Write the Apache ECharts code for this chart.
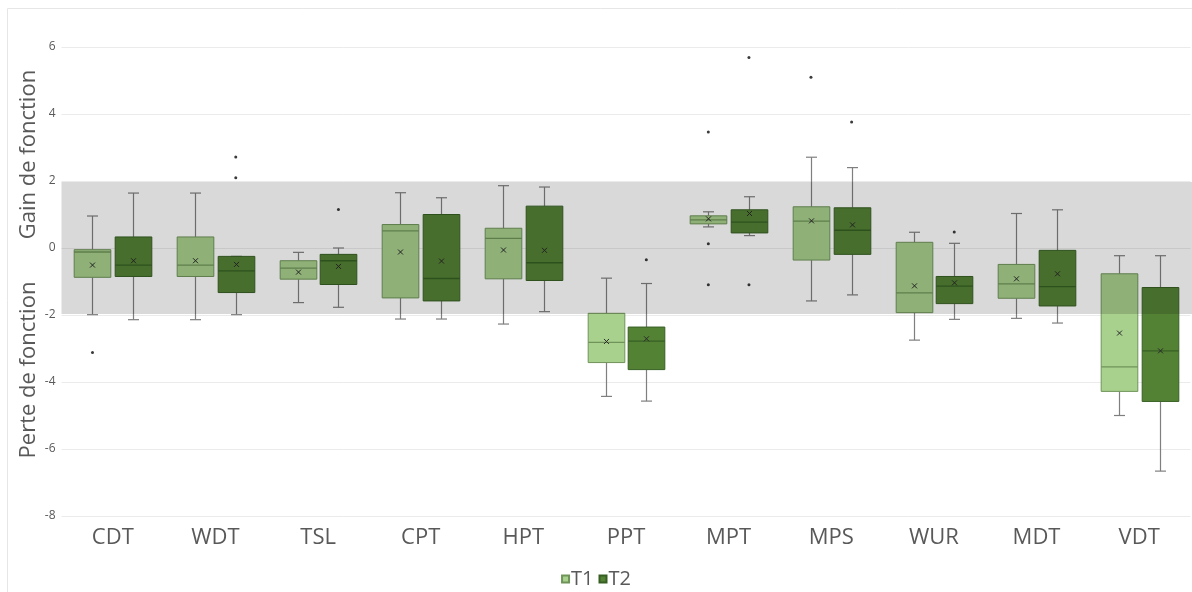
<!DOCTYPE html>
<html>
<head>
<meta charset="utf-8">
<script src="https://cdn.jsdelivr.net/npm/echarts@6/dist/echarts.min.js"></script>
<style>html,body{margin:0;padding:0;background:#fff;}#chart{width:1192px;height:592px;}</style>
</head>
<body>
<div id="chart"></div>
<script>
const categories = ['CDT','WDT','TSL','CPT','HPT','PPT','MPT','MPS','WUR','MDT','VDT'];
const yTicks = [-8, -6, -4, -2, 0, 2, 4, 6];
// [min, Q1, median, Q3, max, mean]
const t1Stats = [
  [-1.99, -0.875, -0.12, -0.05, 0.955, -0.51],
  [-2.14, -0.85, -0.51, 0.33, 1.64, -0.38],
  [-1.63, -0.93, -0.60, -0.38, -0.13, -0.72],
  [-2.12, -1.49, 0.51, 0.70, 1.65, -0.12],
  [-2.27, -0.92, 0.29, 0.59, 1.86, -0.06],
  [-4.43, -3.42, -2.82, -1.95, -0.90, -2.79],
  [0.63, 0.72, 0.84, 0.96, 1.08, 0.87],
  [-1.58, -0.36, 0.80, 1.23, 2.71, 0.81],
  [-2.75, -1.93, -1.34, 0.17, 0.47, -1.13],
  [-2.10, -1.50, -1.07, -0.49, 1.03, -0.92],
  [-5.00, -4.28, -3.55, -0.77, -0.23, -2.54]
];
const t2Stats = [
  [-2.14, -0.85, -0.51, 0.33, 1.64, -0.38],
  [-1.99, -1.33, -0.68, -0.25, -0.25, -0.49],
  [-1.77, -1.09, -0.38, -0.19, 0.00, -0.55],
  [-2.12, -1.58, -0.91, 1.00, 1.50, -0.39],
  [-1.90, -0.97, -0.44, 1.25, 1.82, -0.07],
  [-4.57, -3.63, -2.78, -2.36, -1.06, -2.71],
  [0.37, 0.45, 0.77, 1.14, 1.53, 1.03],
  [-1.40, -0.19, 0.53, 1.20, 2.40, 0.69],
  [-2.13, -1.66, -1.14, -0.85, 0.14, -1.04],
  [-2.24, -1.73, -1.15, -0.07, 1.14, -0.77],
  [-6.66, -4.58, -3.07, -1.18, -0.23, -3.07]
];
// [category index, value]
const t1Outliers = [[0, -3.12], [6, 3.46], [6, 0.13], [6, -1.10], [7, 5.10]];
const t2Outliers = [[1, 2.72], [1, 2.10], [2, 1.15], [5, -0.35], [6, 5.69], [6, -1.10], [7, 3.76], [8, 0.48]];
const neutralBand = [-1.97, 1.97];

const FONT = '"Open Sans", "Noto Sans", sans-serif';
const TEXT = '#595959';

function boxRender(side, stroke) {
  return function (params, api) {
    const idx = api.value(0);
    const band = api.size([1, 0])[0];
    const cx = Math.round(api.coord([idx, 0])[0] + side * band * 0.198) + 0.5;
    const w = band * 0.357;
    const y = v => api.coord([idx, v])[1];
    const yMin = y(api.value(1)), yQ1 = y(api.value(2)), yMed = y(api.value(3)),
          yQ3 = y(api.value(4)), yMax = y(api.value(5)), yMean = y(api.value(6));
    const cap = 5.5, m = 2.5;
    const ws = { stroke: '#7f7f7f', lineWidth: 1.2 };
    return {
      type: 'group',
      children: [
        { type: 'line', shape: { x1: cx, y1: yMax, x2: cx, y2: yQ3 }, style: ws },
        { type: 'line', shape: { x1: cx, y1: yQ1, x2: cx, y2: yMin }, style: ws },
        { type: 'line', shape: { x1: cx - cap, y1: yMax, x2: cx + cap, y2: yMax }, style: ws },
        { type: 'line', shape: { x1: cx - cap, y1: yMin, x2: cx + cap, y2: yMin }, style: ws },
        { type: 'rect', shape: { x: cx - w / 2, y: yQ3, width: w, height: yQ1 - yQ3 },
          style: { fill: api.visual('color'), stroke: stroke, lineWidth: 1 } },
        { type: 'line', shape: { x1: cx - w / 2, y1: yMed, x2: cx + w / 2, y2: yMed },
          style: { stroke: stroke, lineWidth: 1.3 } },
        { type: 'line', shape: { x1: cx - m, y1: yMean - m, x2: cx + m, y2: yMean + m },
          style: { stroke: '#2a2a2a', lineWidth: 1 } },
        { type: 'line', shape: { x1: cx - m, y1: yMean + m, x2: cx + m, y2: yMean - m },
          style: { stroke: '#2a2a2a', lineWidth: 1 } }
      ]
    };
  };
}
function outlierRender(side) {
  return function (params, api) {
    const idx = api.value(0);
    const band = api.size([1, 0])[0];
    const p = api.coord([idx, api.value(1)]);
    return { type: 'circle', shape: { cx: p[0] + side * band * 0.198, cy: p[1], r: 1.5 },
             style: { fill: '#3a3a3a' } };
  };
}
function bandRender(params, api) {
  const cs = params.coordSys;
  const yLo = api.coord([0, api.value(0)])[1];
  const yHi = api.coord([0, api.value(1)])[1];
  return { type: 'rect', silent: true,
           shape: { x: cs.x, y: yHi, width: cs.width + 2, height: yLo - yHi },
           style: { fill: 'rgba(0,0,0,0.15)' } };
}

const t1Data = t1Stats.map((s, i) => [i].concat(s));
const t2Data = t2Stats.map((s, i) => [i].concat(s));

const chart = echarts.init(document.getElementById('chart'), null, { renderer: 'canvas' });
chart.setOption({
  backgroundColor: '#ffffff',
  animation: false,
  grid: { left: 61.5, right: 1.5, top: 47, bottom: 76, containLabel: false, outerBoundsMode: 'none' },
  xAxis: {
    type: 'category',
    data: categories,
    axisLine: { show: false },
    axisTick: { show: false },
    axisLabel: { fontSize: 22, color: TEXT, fontFamily: FONT, margin: 11 },
    splitLine: { show: false }
  },
  yAxis: {
    type: 'value',
    min: yTicks[0], max: yTicks[yTicks.length - 1], interval: 2,
    axisLine: { show: false },
    axisTick: { show: false },
    axisLabel: { fontSize: 12, color: TEXT, fontFamily: FONT, margin: 6 },
    splitLine: { lineStyle: { color: '#ebebeb', width: 1 } }
  },
  legend: {
    data: ['T1', 'T2'],
    left: 'center',
    top: 564,
    icon: 'rect',
    itemWidth: 7, itemHeight: 7, itemGap: 5,
    textStyle: { fontSize: 20, color: TEXT, fontFamily: FONT, padding: [0, 0, 0, -3] }
  },
  graphic: [
    { type: 'rect', silent: true, shape: { x: 7.5, y: 8.5, width: 1300, height: 700 },
      style: { fill: 'none', stroke: '#e6e6e6', lineWidth: 1 } },
    { type: 'text', x: 29, y: 154.5, rotation: Math.PI / 2,
      style: { text: 'Gain de fonction', align: 'center', verticalAlign: 'middle', fontSize: 22, fill: TEXT, fontFamily: FONT } },
    { type: 'text', x: 29, y: 370, rotation: Math.PI / 2,
      style: { text: 'Perte de fonction', align: 'center', verticalAlign: 'middle', fontSize: 22, fill: TEXT, fontFamily: FONT } }
  ],
  series: [
    { name: 'T1', type: 'custom', z: 2, renderItem: boxRender(-1, '#6f9359'),
      itemStyle: { color: '#A9D18E', borderColor: '#6f9359', borderWidth: 1 },
      encode: { x: 0, y: [1, 2, 3, 4, 5, 6] }, data: t1Data },
    { name: 'T2', type: 'custom', z: 2, renderItem: boxRender(1, '#375f23'),
      itemStyle: { color: '#548235', borderColor: '#375f23', borderWidth: 1 },
      encode: { x: 0, y: [1, 2, 3, 4, 5, 6] }, data: t2Data },
    { name: 'T1 outliers', type: 'custom', z: 3, renderItem: outlierRender(-1),
      encode: { x: 0, y: 1 }, data: t1Outliers },
    { name: 'T2 outliers', type: 'custom', z: 3, renderItem: outlierRender(1),
      encode: { x: 0, y: 1 }, data: t2Outliers },
    { name: 'band', type: 'custom', z: 10, silent: true, clip: false, renderItem: bandRender,
      encode: { y: [0, 1] }, data: [neutralBand] }
  ]
});
</script>
</body>
</html>
